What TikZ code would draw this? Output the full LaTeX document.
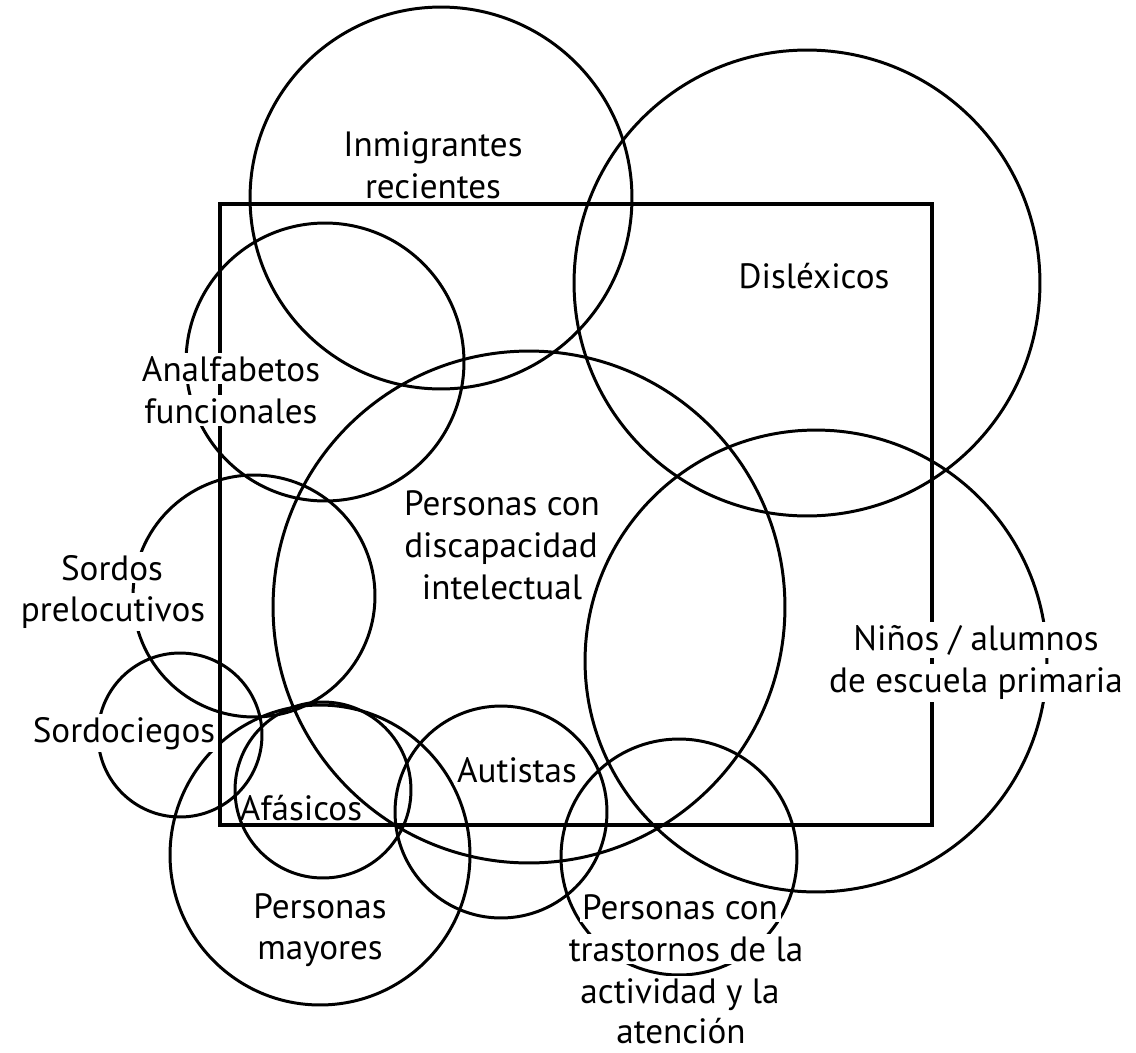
\documentclass[tikz,border=0pt]{standalone}
\usepackage{fontspec}
\setmainfont{PT Sans}
\usepackage{tikz}
\tikzstyle{set} = [circle, draw=black, line width=1.7pt, inner sep=0pt, outer sep=0pt]
\tikzstyle{frame} = [draw=black, line width=2pt]
\tikzstyle{tag} = [fill=white, inner sep=1.5pt, anchor=base, font=\fontsize{20}{24}\selectfont]
\begin{document}
\begin{tikzpicture}[x=0.02cm, y=-0.02cm]
   \useasboundingbox (0,0) rectangle (1136,1052);
   \node (inm) [set, minimum size=7.64cm] at (441,198) {};
   \node (dis) [set, minimum size=9.32cm] at (807,283) {};
   \node (ana) [set, minimum size=5.56cm] at (325,362) {};
   \node (int) [set, minimum size=10.24cm] at (529,607) {};
   \node (nin) [set, minimum size=9.24cm] at (816,661) {};
   \node (sor) [set, minimum size=4.84cm] at (254,596) {};
   \node (sci) [set, minimum size=3.28cm] at (180,735) {};
   \node (afa) [set, minimum size=3.52cm] at (323,790) {};
   \node (may) [set, minimum size=6.00cm] at (320,855) {};
   \node (aut) [set, minimum size=4.24cm] at (501,812) {};
   \node (tda) [set, minimum size=4.72cm] at (679,857) {};
   \draw [frame] (220,204) rectangle (932,825);
   % textos
   \node (inm1) [tag] at (433,156) {Inmigrantes};
   \node (inm2) [tag] at (433,198) {recientes};
   \node (dis1) [tag] at (814,288) {Disléxicos};
   \node (ana1) [tag] at (231,381) {Analfabetos};
   \node (ana2) [tag] at (231,423) {funcionales};
   \node (int1) [tag] at (502,515) {Personas con};
   \node (int2) [tag] at (501,557) {discapacidad};
   \node (int3) [tag] at (502,599) {intelectual};
   \node (sor1) [tag] at (112,580) {Sordos};
   \node (sor2) [tag] at (113,621) {prelocutivos};
   \node (sci1) [tag] at (124,742) {Sordociegos};
   \node (afa1) [tag, fill=none] at (301,820) {Afásicos};
   \node (aut1) [tag] at (517,782) {Autistas};
   \node (may1) [tag] at (320,918) {Personas};
   \node (may2) [tag] at (320,959) {mayores};
   \node (nin1) [tag] at (976,650) {Niños / alumnos};
   \node (nin2) [tag] at (976,692) {de escuela primaria};
   \node (tda1) [tag] at (680,919) {Personas con};
   \node (tda2) [tag] at (686,961) {trastornos de la};
   \node (tda3) [tag] at (680,1003) {actividad y la};
   \node (tda4) [tag] at (681,1043) {atención};
\end{tikzpicture}
\end{document}
